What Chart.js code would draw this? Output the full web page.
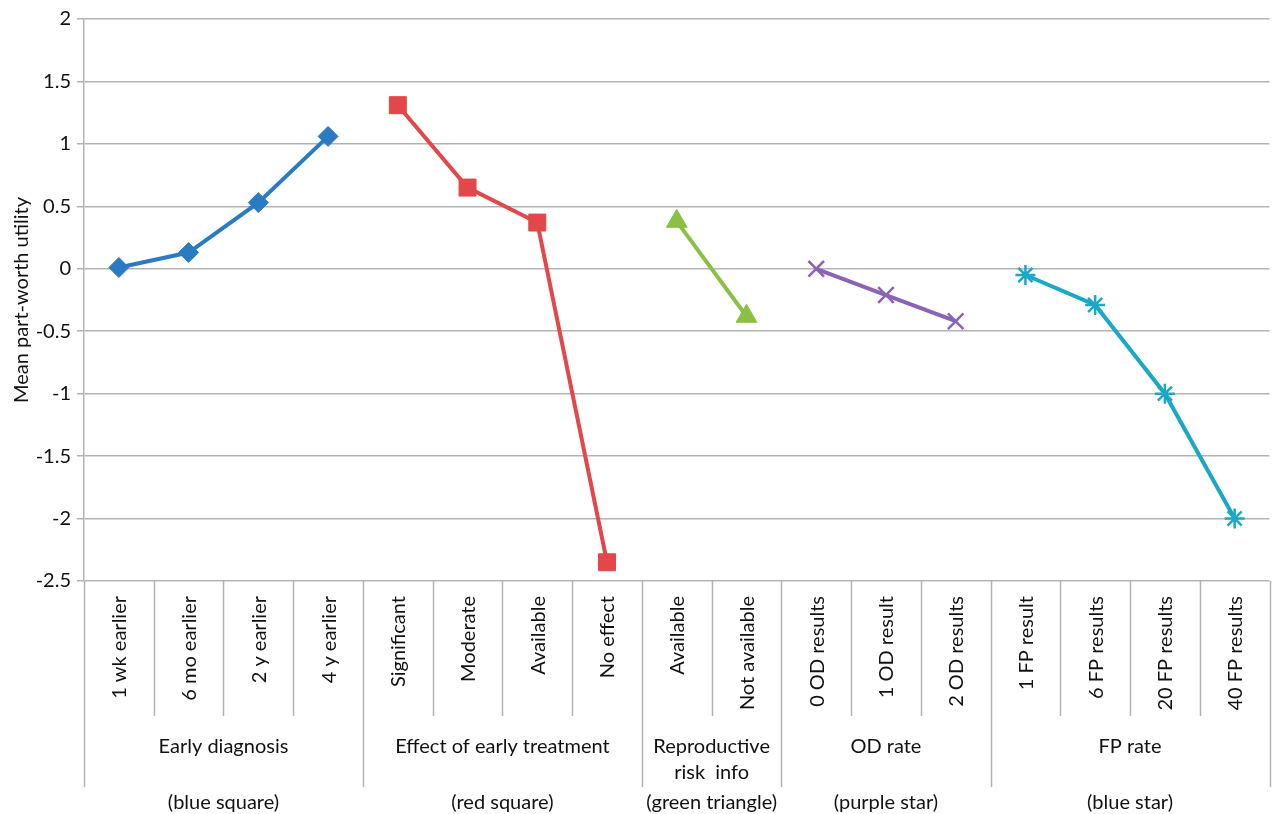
<!DOCTYPE html>
<html>
<head>
<meta charset="utf-8">
<script src="https://cdn.jsdelivr.net/npm/chart.js@4.4.1/dist/chart.umd.min.js"></script>
<style>
  html, body { margin: 0; padding: 0; background: #fff; }
  #wrap { width: 1283px; height: 814px; }
</style>
</head>
<body>
<div id="wrap"><canvas id="chart" width="1283" height="814"></canvas></div>
<script>
// categories along the x axis (one per attribute level)
const categories = [
  '1 wk earlier', '6 mo earlier', '2 y earlier', '4 y earlier',
  'Significant', 'Moderate', 'Available', 'No effect',
  'Available', 'Not available',
  '0 OD results', '1 OD result', '2 OD results',
  '1 FP result', '6 FP results', '20 FP results', '40 FP results'
];

// attribute groups (second and third label rows)
const groupNames = [['Early diagnosis'], ['Effect of early treatment'], ['Reproductive', 'risk  info'], ['OD rate'], ['FP rate']];
const groupNotes = ['(blue square)', '(red square)', '(green triangle)', '(purple star)', '(blue star)'];
const groupSizes = [4, 4, 2, 3, 4];

// mean part-worth utilities
const earlyDiagnosis = [0.01, 0.13, 0.53, 1.06];
const earlyTreatment = [1.31, 0.65, 0.37, -2.35];
const reproRisk = [0.38, -0.38];
const odRate = [0.0, -0.21, -0.42];
const fpRate = [-0.05, -0.29, -1.0, -2.0];

const yTicks = [2, 1.5, 1, 0.5, 0, -0.5, -1, -1.5, -2, -2.5];

const FONT = 'Lato, "Open Sans", sans-serif';
const TXT = '#111';
const GRID = '#b3b3b3';
const PLOT_RIGHT = 1281; // where the plot area should end

// place a series on its own slots, null elsewhere so lines break between groups
function place(vals, start) {
  return categories.map((_, i) => (i >= start && i < start + vals.length) ? vals[i - start] : null);
}
const starts = groupSizes.map((_, g) => groupSizes.slice(0, g).reduce((a, b) => a + b, 0));

const labelPlugin = {
  id: 'multiLevelAxis',
  afterDraw(chart) {
    const ctx = chart.ctx;
    const x = chart.scales.x;
    const area = chart.chartArea;
    const top = area.bottom;
    const edge = (i) => {
      if (i <= 0) return area.left;
      if (i >= categories.length) return area.right;
      return (x.getPixelForValue(i - 1) + x.getPixelForValue(i)) / 2;
    };
    ctx.save();
    ctx.strokeStyle = GRID;
    ctx.lineWidth = 1.5;
    // separators
    const groupEdges = starts.concat([categories.length]);
    for (let i = 0; i <= categories.length; i++) {
      const isGroup = groupEdges.includes(i);
      const px = Math.round(edge(i)) + 0.5;
      ctx.beginPath();
      ctx.moveTo(px, top);
      ctx.lineTo(px, isGroup ? top + 206 : top + 135);
      ctx.stroke();
    }
    // rotated level labels
    ctx.fillStyle = TXT;
    ctx.font = '20px ' + FONT;
    categories.forEach((lab, i) => {
      ctx.save();
      ctx.translate(x.getPixelForValue(i), top + 15);
      ctx.rotate(-Math.PI / 2);
      ctx.textAlign = 'right';
      ctx.textBaseline = 'middle';
      ctx.fillText(lab, 0, 1);
      ctx.restore();
    });
    // group names and notes
    ctx.textAlign = 'center';
    ctx.textBaseline = 'middle';
    groupSizes.forEach((n, g) => {
      const cx = (edge(starts[g]) + edge(starts[g] + n)) / 2;
      groupNames[g].forEach((line, k) => {
        ctx.fillText(line, cx, top + 166 + k * 26);
      });
      ctx.fillText(groupNotes[g], cx, top + 222);
    });
    ctx.restore();
  }
};

const lineSet = (label, data, color, style, radius, bw) => ({
  label: label,
  data: data,
  borderColor: color,
  backgroundColor: color,
  pointBackgroundColor: color,
  pointBorderColor: color,
  borderWidth: 4,
  pointStyle: style,
  pointRadius: radius,
  pointBorderWidth: bw,
  spanGaps: false,
  tension: 0
});

const chart = new Chart(document.getElementById('chart'), {
  type: 'line',
  data: {
    labels: categories,
    datasets: [
      lineSet('Early diagnosis', place(earlyDiagnosis, starts[0]), '#2a7bc2', 'rectRot', 10, 1),
      lineSet('Effect of early treatment', place(earlyTreatment, starts[1]), '#e2474a', 'rect', 12, 1),
      lineSet('Reproductive risk info', place(reproRisk, starts[2]), '#8cc044', 'triangle', 12, 1),
      lineSet('OD rate', place(odRate, starts[3]), '#8a63b5', 'crossRot', 11, 2.5),
      lineSet('FP rate', place(fpRate, starts[4]), '#19a8c5', 'star', 10, 2.5)
    ]
  },
  options: {
    responsive: false,
    animation: false,
    devicePixelRatio: 1,
    layout: { padding: { top: 19, right: 2, left: 0, bottom: 0 } },
    plugins: { legend: { display: false }, tooltip: { enabled: false } },
    scales: {
      x: {
        type: 'category',
        offset: true,
        grid: { display: false },
        border: { display: false },
        ticks: { display: false },
        afterFit(scale) { scale.height = 233; }
      },
      y: {
        min: -2.5,
        max: 2,
        afterBuildTicks(scale) { scale.ticks = yTicks.map(v => ({ value: v })); },
        afterFit(scale) { scale.width = 84; },
        grid: { color: GRID, lineWidth: 1.5, tickLength: 7 },
        border: { display: true, color: GRID, width: 1.5 },
        ticks: {
          color: TXT,
          font: { family: FONT, size: 20 },
          padding: 6,
          callback: (v) => String(v)
        },
        title: {
          display: true,
          text: 'Mean part-worth utility',
          color: TXT,
          font: { family: FONT, size: 20 },
          padding: { top: 10, bottom: 4 }
        }
      }
    }
  },
  plugins: [labelPlugin]
});

// nudge the right padding so the plot ends where the reference's does
const diff = PLOT_RIGHT - chart.chartArea.right;
if (Math.abs(diff) > 0.5) {
  chart.options.layout.padding.right = 2 - diff;
  chart.update();
}
</script>
</body>
</html>
